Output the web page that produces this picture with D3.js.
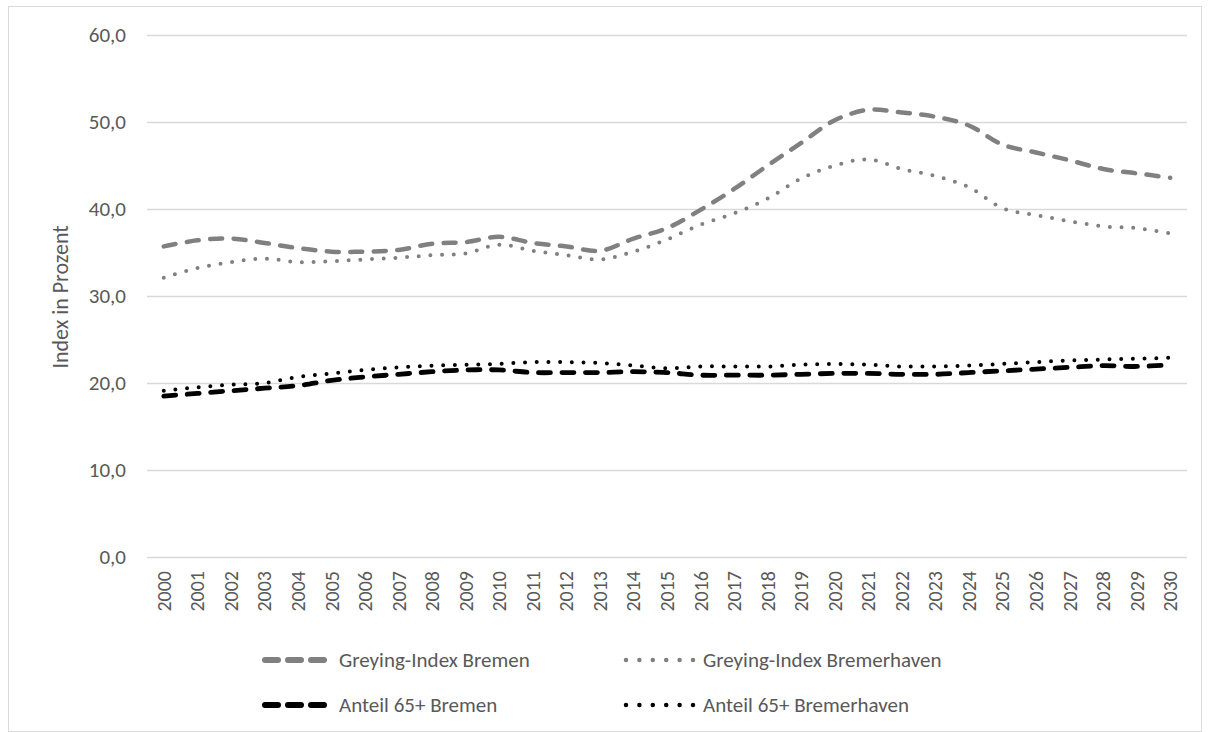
<!DOCTYPE html>
<html><head><meta charset="utf-8">
<script src="https://cdn.jsdelivr.net/npm/d3@7"></script>
<style>
body{margin:0;background:#fff;}
text{font-family:Carlito,Calibri,Lato,"Open Sans",sans-serif;fill:#595959;}
</style></head>
<body><svg id="c" width="1210" height="732"></svg>
<script>
const years = ["2000","2001","2002","2003","2004","2005","2006","2007","2008","2009","2010","2011","2012","2013","2014","2015","2016","2017","2018","2019","2020","2021","2022","2023","2024","2025","2026","2027","2028","2029","2030"];
const greyingBremen = [35.7,36.4,36.6,36.1,35.5,35.1,35.1,35.3,36.0,36.2,36.8,36.1,35.7,35.2,36.6,37.8,39.9,42.3,45.0,47.6,50.2,51.4,51.1,50.6,49.6,47.4,46.5,45.6,44.6,44.1,43.6];
const greyingBremerhaven = [32.1,33.2,33.9,34.3,33.9,34.0,34.2,34.4,34.7,34.9,35.9,35.2,34.7,34.2,35.1,36.5,38.2,39.5,41.2,43.5,45.0,45.7,44.6,43.8,42.5,40.1,39.3,38.6,38.0,37.8,37.2];
const share65Bremen = [18.5,18.8,19.1,19.4,19.7,20.3,20.7,21.0,21.3,21.5,21.5,21.2,21.2,21.2,21.3,21.2,20.9,20.9,20.9,21.0,21.1,21.1,21.0,21.0,21.2,21.4,21.6,21.8,22.0,21.9,22.1];
const share65Bremerhaven = [19.1,19.5,19.8,20.0,20.7,21.1,21.5,21.8,22.0,22.1,22.2,22.4,22.4,22.3,22.0,21.7,21.9,21.9,21.9,22.1,22.2,22.1,21.9,21.9,22.0,22.2,22.4,22.6,22.7,22.8,22.9];
const yTicks = [0,10,20,30,40,50,60];
const seriesNames = ["Greying-Index Bremen","Greying-Index Bremerhaven","Anteil 65+ Bremen","Anteil 65+ Bremerhaven"];
const yTitle = "Index in Prozent";

const styles = [
  {color:"#808080", width:4.5, dash:"12 11.5"},
  {color:"#808080", width:4, dash:"0 11.7"},
  {color:"#000000", width:4.8, dash:"12 11.5"},
  {color:"#000000", width:4, dash:"0 11.7"}
];
const series = [greyingBremen, greyingBremerhaven, share65Bremen, share65Bremerhaven];

const svg = d3.select("#c");
svg.append("rect").attr("x",8.5).attr("y",6.5).attr("width",1193).attr("height",725)
  .attr("fill","none").attr("stroke","#d9d9d9");

const x = d3.scaleBand().domain(years).range([147,1187]);
const y = d3.scaleLinear().domain([0,60]).range([557,35]);
const cx = d => x(d) + x.bandwidth()/2;

// grid
svg.append("g").selectAll("line").data(yTicks).join("line")
  .attr("x1",147).attr("x2",1187)
  .attr("y1",d=>Math.round(y(d))+0.5).attr("y2",d=>Math.round(y(d))+0.5)
  .attr("stroke","#d9d9d9").attr("stroke-width",1.3);

// y tick labels
const fmt = d => d.toFixed(1).replace(".",",");
svg.append("g").selectAll("text").data(yTicks).join("text")
  .attr("x",126).attr("y",d=>y(d)).attr("dy","0.35em")
  .attr("text-anchor","end").style("font-size","21px").text(fmt);

// x labels
svg.append("g").selectAll("text").data(years).join("text")
  .attr("transform",d=>`translate(${cx(d)},571) rotate(-90)`)
  .attr("text-anchor","end").attr("dy","0.35em").style("font-size","20px").text(d=>d);

// y title
svg.append("text").attr("transform","translate(60,297) rotate(-90)")
  .attr("text-anchor","middle").attr("dy","0.35em").style("font-size","22px").text(yTitle);

const line = d3.line().x((d,i)=>cx(years[i])).y(d=>y(d)).curve(d3.curveCatmullRom.alpha(0.5));

series.forEach((s,i)=>{
  svg.append("path").datum(s).attr("d",line)
    .attr("fill","none").attr("stroke",styles[i].color).attr("stroke-width",styles[i].width)
    .attr("stroke-dasharray",styles[i].dash).attr("stroke-linecap","round").attr("stroke-linejoin","round");
});

// legend
const legPos = [{x:262,y:660},{x:623,y:660},{x:262,y:705},{x:623,y:705}];
seriesNames.forEach((n,i)=>{
  const p = legPos[i];
  const g = svg.append("g");
  const dashed = i%2===0;
  g.append("line").attr("x1",p.x+3).attr("x2",p.x+(dashed?62:70)).attr("y1",p.y).attr("y2",p.y)
    .attr("stroke",styles[i].color).attr("stroke-width",dashed?6:4.5)
    .attr("stroke-dasharray", dashed ? "13 10" : "0 13.4").attr("stroke-linecap","round");
  g.append("text").attr("x",p.x+(dashed?77:80)).attr("y",p.y).attr("dy","0.35em").style("font-size","21px").text(n);
});
</script></body></html>
